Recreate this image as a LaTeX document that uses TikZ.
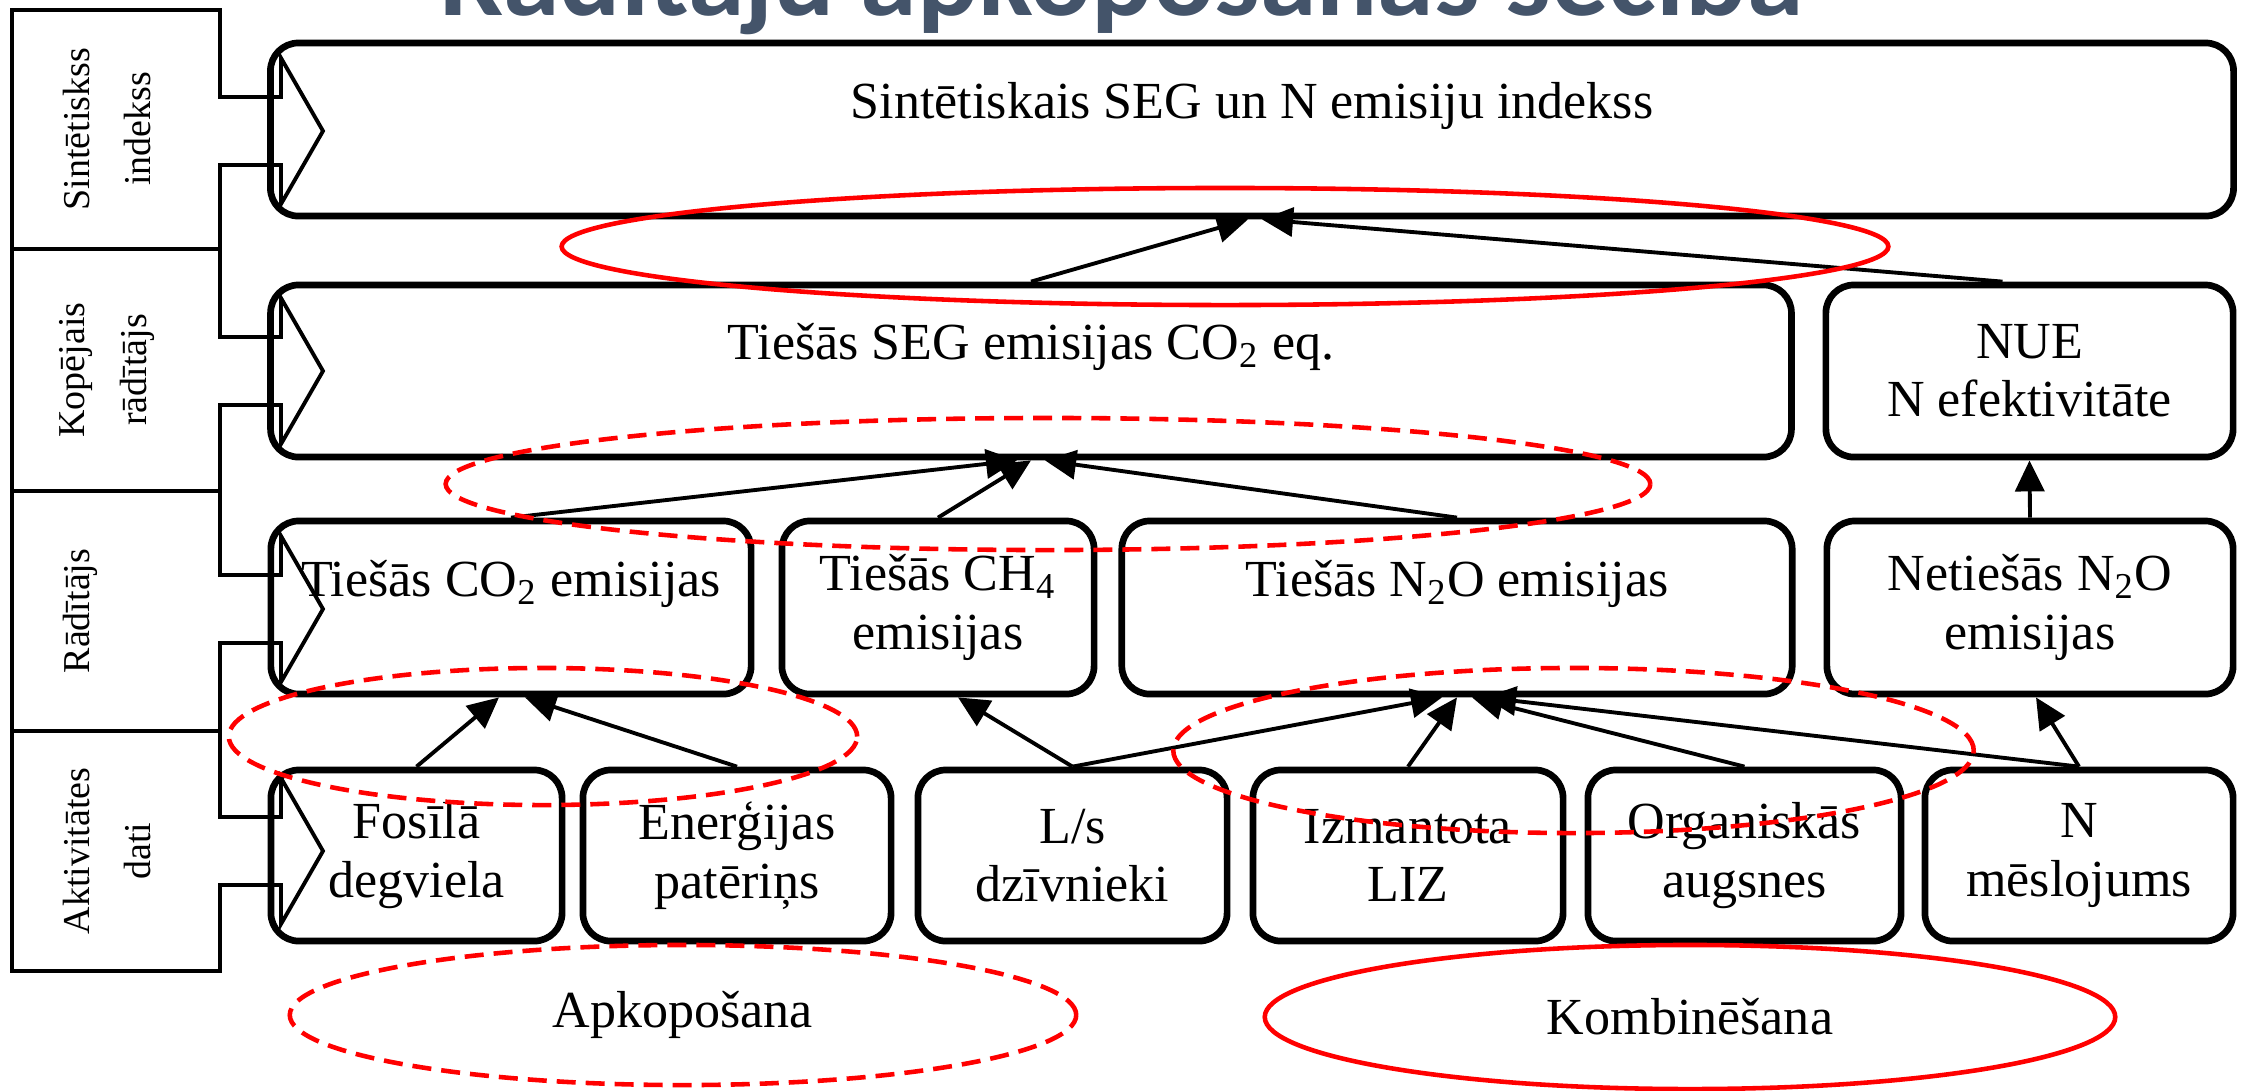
\documentclass[tikz,border=0pt]{standalone}
\usepackage{fontspec}
\setmainfont{Liberation Serif}
\newfontfamily\titlefont{Carlito}
\usepackage{xcolor}
\usetikzlibrary{arrows.meta,
	calc,
	shapes.geometric}

\definecolor{titleblue}{HTML}{44546A}

\begin{document}
\begin{tikzpicture}[x=0.01cm,y=-0.01cm,
	box/.style={draw,line width=1.9pt,rounded corners=0.28cm,align=center,inner sep=0pt,
		font=\fontsize{14.8}{16.6}\selectfont},
	link/.style={line width=1.1pt,-{Triangle[length=0.31cm,width=0.29cm]}},
	ring/.style={draw=red,line width=1.3pt},
	dashring/.style={ring,dash pattern=on 0.19cm off 0.1cm},
	side/.style={font=\fontsize{10.8}{17.4}\selectfont,align=center,rotate=90}]
	\useasboundingbox (0,0) rectangle (2242,1090);
	\clip (0,0) rectangle (2242,1090);
	% title, only its lower edge shows
	\node[font={\titlefont\bfseries\fontsize{32.5}{39}\selectfont},text=titleblue,anchor=base,inner sep=0pt] (title) at (1121,15) {Rādītāju apkopošanas secība};
	% level column
	\draw[line width=1.1pt] (12,10) -- (220,10)
		\foreach \c in {131,371,609,851} {
			-- (220,\c-34) -- (281,\c-34) -- (281,\c-73) -- (323,\c) -- (281,\c+73) -- (281,\c+34) -- (220,\c+34)
		}
		-- (220,971) -- (12,971) -- cycle;
	\foreach \y in {249,491,731} {
		\draw[line width=1.1pt] (12,\y) -- (220,\y);
	}
	\node[side] (lsint) at (107,129) {Sintētiskss\\indekss};
	\node[side] (lkop) at (107,370) {Kopējais\\rādītājs};
	\node[side] (lrad) at (107,611) {Rādītājs\\ \mbox{}};
	\node[side] (lakt) at (107,851) {Aktivitātes\\dati};
	% boxes
	\node[box,minimum width=19.62cm,minimum height=1.73cm] (sint) at (1252,129.5) {Sintētiskais SEG un N emisiju indekss\\ \mbox{}};
	\node[box,minimum width=15.20cm,minimum height=1.72cm] (seg) at (1031,371) {Tiešās SEG emisijas CO\textsubscript{2} eq.\\ \mbox{}};
	\node[box,minimum width=4.07cm,minimum height=1.72cm] (nue) at (2029.5,371) {NUE\\N efektivitāte};
	\node[box,minimum width=4.80cm,minimum height=1.73cm] (co2) at (511,607.5) {Tiešās CO\textsubscript{2} emisijas\\ \mbox{}};
	\node[box,minimum width=3.12cm,minimum height=1.73cm] (ch4) at (938,607.5) {Tiešās CH\textsubscript{4}\\emisijas};
	\node[box,minimum width=6.70cm,minimum height=1.73cm] (n2o) at (1457,607.5) {Tiešās N\textsubscript{2}O emisijas\\ \mbox{}};
	\node[box,minimum width=4.06cm,minimum height=1.73cm] (net) at (2030,607.5) {Netiešās N\textsubscript{2}O\\emisijas};
	\node[box,minimum width=2.91cm,minimum height=1.71cm] (fos) at (416.5,855.5) {Fosīlā\\degviela};
	\node[box,minimum width=3.08cm,minimum height=1.71cm] (ener) at (737,855.5) {Enerģijas\\patēriņs};
	\node[box,minimum width=3.09cm,minimum height=1.71cm] (lsd) at (1072.5,855.5) {L/s\\dzīvnieki};
	\node[box,minimum width=3.10cm,minimum height=1.71cm] (izm) at (1408,855.5) {Izmantota\\LIZ};
	\node[box,minimum width=3.13cm,minimum height=1.71cm] (org) at (1744.5,855.5) {Organiskās\\augsnes};
	\node[box,minimum width=3.08cm,minimum height=1.71cm] (nmes) at (2079,855.5) {N\\mēslojums};
	% arrows
	\draw[link] (seg.north) -- ([xshift=-0.04cm]sint.south);
	\draw[link] ([xshift=-0.27cm]nue.north) -- ([xshift=0.1cm]sint.south);
	\draw[link] (co2.north) -- ([xshift=-0.14cm]seg.south);
	\draw[link] (ch4.north) -- (seg.south);
	\draw[link] (n2o.north) -- ([xshift=0.14cm]seg.south);
	\draw[link] (net.north) -- (nue.south);
	\draw[link] (fos.north) -- ([xshift=-0.12cm]co2.south);
	\draw[link] (ener.north) -- ([xshift=0.14cm]co2.south);
	\draw[link] (lsd.north) -- ([xshift=0.2cm]ch4.south);
	\draw[link] (lsd.north) -- ([xshift=-0.15cm]n2o.south);
	\draw[link] (izm.north) -- (n2o.south);
	\draw[link] (org.north) -- ([xshift=0.15cm]n2o.south);
	\draw[link] (nmes.north) -- ([xshift=0.28cm]n2o.south);
	\draw[link] (nmes.north) -- ([xshift=0.06cm]net.south);
	% groupings
	\draw[ring] (1225,246.5) ellipse [x radius=6.63cm, y radius=0.585cm];
	\draw[dashring] (1048,484) ellipse [x radius=6.02cm, y radius=0.66cm];
	\draw[dashring] (543,736.5) ellipse [x radius=3.14cm, y radius=0.685cm];
	\draw[dashring] (1573.5,750.5) ellipse [x radius=4.0cm, y radius=0.825cm];
	\node[dashring,ellipse,minimum width=7.86cm,minimum height=1.40cm,font=\fontsize{14.8}{16.6}\selectfont] (apk) at (683,1015) {Apkopošana};
	\node[ring,ellipse,minimum width=8.50cm,minimum height=1.44cm,font=\fontsize{14.8}{16.6}\selectfont] (komb) at (1690,1017) {Kombinēšana};
\end{tikzpicture}
\end{document}
